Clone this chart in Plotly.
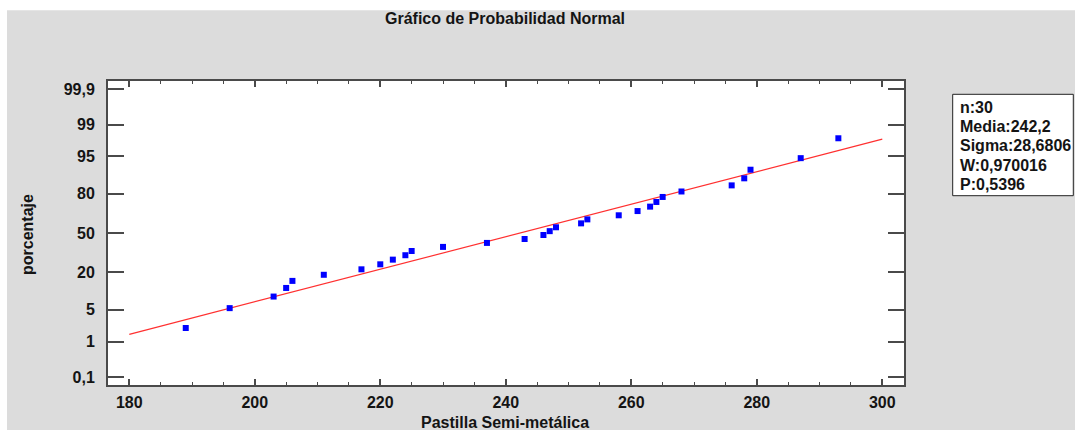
import plotly.graph_objects as go
from statistics import NormalDist

# ---- data ----
valores = [189, 196, 203, 205, 206, 211, 217, 220, 222, 224, 225, 230, 237, 243, 246,
           247, 248, 252, 253, 258, 261, 263, 264, 265, 268, 276, 278, 279, 287, 293]
porcentajes = [2.1, 5.4, 8.7, 12.0, 15.3, 18.6, 21.9, 25.2, 28.5, 31.8, 35.1, 38.4, 41.7, 45.0, 48.4,
               51.7, 55.0, 58.3, 61.6, 64.9, 68.2, 71.5, 74.8, 78.1, 81.4, 84.7, 88.0, 91.3, 94.6, 97.9]
n = 30
media = 242.2
sigma = 28.6806
W = 0.970016
P = 0.5396
linea_x = [180, 300]
y_ticks_pct = [0.1, 1, 5, 20, 50, 80, 95, 99, 99.9]
y_ticks_txt = ["0,1", "1", "5", "20", "50", "80", "95", "99", "99,9"]
x_ticks = [180, 200, 220, 240, 260, 280, 300]

nd = NormalDist()
z_pts = [nd.inv_cdf(p / 100) for p in porcentajes]
z_line = [(x - media) / sigma for x in linea_x]
z_ticks = [nd.inv_cdf(p / 100) for p in y_ticks_pct]

FONT = "Liberation Sans, Arial, sans-serif"
TXT = "#141414"
GRAY = "#dcdcdc"

W_PX, H_PX = 1075, 430
ML, MR, MT, MB = 108, 171, 81, 45
PW = W_PX - ML - MR
PH = H_PX - MT - MB


def px(x):
    return (x - ML) / PW


def py(y):
    return (H_PX - MB - y) / PH


fig = go.Figure()
fig.add_trace(go.Scatter(x=linea_x, y=z_line, mode="lines",
                         line=dict(color="#ff3030", width=1.2), showlegend=False))
fig.add_trace(go.Scatter(x=valores, y=z_pts, mode="markers",
                         marker=dict(symbol="square", size=6, color="#0000ff"),
                         showlegend=False))

axis_common = dict(showline=True, linecolor="#4a4a4a", linewidth=2, mirror="ticks",
                   ticks="inside", tickcolor="#4a4a4a", showgrid=False, zeroline=False,
                   tickfont=dict(family=FONT, size=16, color=TXT, weight="bold"))

fig.update_xaxes(range=[176.61, 303.46], tickvals=x_ticks, ticklen=6, tickwidth=1.5,
                 minor=dict(dtick=5, tick0=180, ticks="inside", ticklen=3,
                            tickcolor="#4a4a4a", tickwidth=1, showgrid=False),
                 ticklabelstandoff=2, **axis_common)
fig.update_yaxes(range=[-3.255, 3.261], tickvals=z_ticks, ticktext=y_ticks_txt,
                 ticklen=16, tickwidth=2, ticklabelstandoff=8, **axis_common)

shapes = [
    # white outer strips
    dict(type="rect", xref="paper", yref="paper", x0=px(-5), x1=px(7), y0=py(440), y1=py(-5),
         fillcolor="white", line=dict(width=0), layer="below"),
    dict(type="rect", xref="paper", yref="paper", x0=px(-5), x1=px(1080), y0=py(10.3), y1=py(-5),
         fillcolor="white", line=dict(width=0), layer="below"),
    # stats box
    dict(type="rect", xref="paper", yref="paper", x0=px(952.7), x1=px(1073.3),
         y0=py(195.7), y1=py(94.3), fillcolor="white",
         line=dict(color="#222222", width=1)),
]

stats = [f"n:{n}", f"Media:{str(media).replace('.', ',')}",
         f"Sigma:{str(sigma).replace('.', ',')}",
         f"W:{str(W).replace('.', ',')}", f"P:{str(P).replace('.', ',')}"]
stat_y = [107.3, 126.5, 145.8, 165.0, 184.3]

ann = []
for s, yy in zip(stats, stat_y):
    ann.append(dict(text=s, xref="paper", yref="paper", x=px(958), y=py(yy),
                    xanchor="left", yanchor="middle", showarrow=False,
                    font=dict(family=FONT, size=16, color=TXT, weight="bold")))
ann.append(dict(text="Gráfico de Probabilidad Normal", xref="paper", yref="paper",
                x=px(505), y=py(19), xanchor="center", yanchor="middle", showarrow=False,
                font=dict(family=FONT, size=16, color=TXT, weight="bold")))
ann.append(dict(text="Pastilla Semi-metálica", xref="paper", yref="paper",
                x=px(505), y=py(422), xanchor="center", yanchor="middle", showarrow=False,
                font=dict(family=FONT, size=16, color=TXT, weight="bold")))
ann.append(dict(text="porcentaje", xref="paper", yref="paper", textangle=-90,
                x=px(27), y=py(235), xanchor="center", yanchor="middle", showarrow=False,
                font=dict(family=FONT, size=16, color=TXT, weight="bold")))

fig.update_layout(width=W_PX, height=H_PX,
                  margin=dict(l=ML, r=MR, t=MT, b=MB, pad=0),
                  paper_bgcolor=GRAY, plot_bgcolor="white",
                  shapes=shapes, annotations=ann, showlegend=False)

fig.write_html("out.html", config={"displayModeBar": False})
